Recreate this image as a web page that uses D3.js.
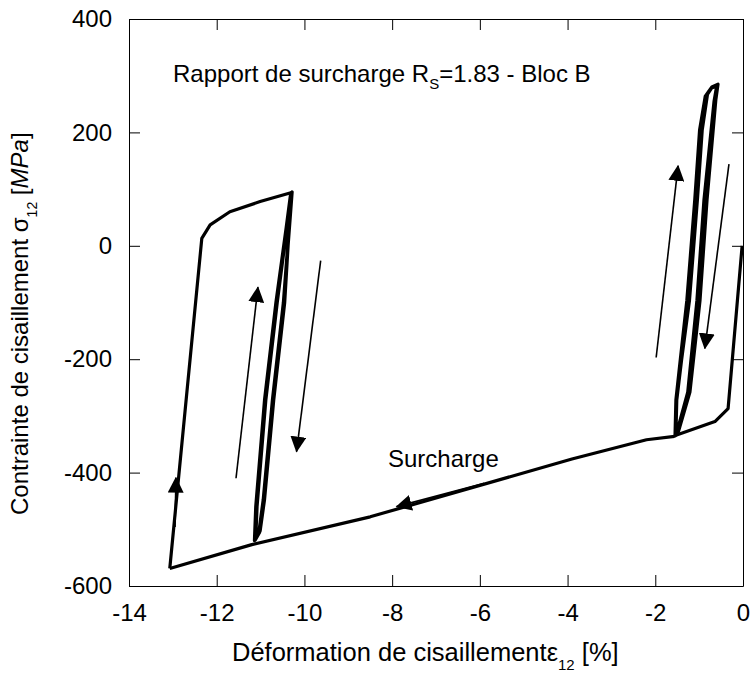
<!DOCTYPE html>
<html lang="fr">
<head>
<meta charset="utf-8">
<title>Rapport de surcharge - Bloc B</title>
<script src="https://d3js.org/d3.v7.min.js"></script>
<style>
  body { margin: 0; background: #fff; }
  svg { display: block; font-family: "Liberation Sans", Arial, sans-serif; }
  .axis text { font-size: 24px; fill: #000; }
  .axis path, .axis line { stroke: #000; stroke-width: 1px; }
</style>
</head>
<body>
<script>
// ticks
const xTicks = [-14, -12, -10, -8, -6, -4, -2, 0];
const yTicks = [-600, -400, -200, 0, 200, 400];

// first loading, from the origin to the start of the right loop  [strain %, stress MPa]
const preload = [[-0.02, 0], [-0.34, -287], [-0.64, -310], [-1.53, -334]];

// cycles of the right loop (up on the left branch, down on the right branch)
const rightCycles = [
  [-1.53, -334], [-1.51, -272], [-1.41, -201], [-1.25, -96], [-1.07, 81], [-0.96, 204], [-0.84, 266], [-0.71, 280], [-0.57, 285],
  [-0.62, 257], [-0.82, 81], [-0.98, -96], [-1.21, -258], [-1.48, -330], [-1.54, -335],
  [-1.51, -272], [-1.40, -201], [-1.22, -96], [-1.04, 81], [-0.93, 204], [-0.81, 267], [-0.69, 281], [-0.58, 284],
  [-0.64, 257], [-0.86, 81], [-1.02, -96], [-1.24, -258], [-1.50, -331], [-1.55, -335],
  [-1.53, -272], [-1.43, -201], [-1.28, -96], [-1.10, 81], [-0.99, 204], [-0.86, 264], [-0.73, 278], [-0.60, 282],
  [-0.66, 255], [-0.89, 81], [-1.05, -96], [-1.26, -258], [-1.52, -332], [-1.56, -336]
];

// the overload ("Surcharge") branch
const surcharge = [[-1.56, -336], [-2.20, -342], [-3.90, -376], [-8.50, -478], [-11.20, -527], [-13.07, -569]];

// reloading up to the left loop
const reload = [[-13.07, -569], [-12.34, 13], [-12.15, 37], [-11.70, 60], [-11.01, 78], [-10.29, 94]];

// cycles of the left loop (down on the right branch, up on the left branch)
const leftCycles = [
  [-10.29, 94], [-10.46, -100], [-10.71, -272], [-10.92, -448], [-11.02, -505], [-11.12, -519],
  [-11.09, -460], [-10.89, -272], [-10.63, -100], [-10.31, 90], [-10.29, 94],
  [-10.48, -100], [-10.73, -272], [-10.94, -448], [-11.04, -505], [-11.13, -518],
  [-11.10, -460], [-10.90, -272], [-10.64, -100], [-10.32, 89], [-10.30, 93],
  [-10.45, -100], [-10.70, -272], [-10.91, -448], [-11.01, -503], [-11.11, -516],
  [-11.08, -460], [-10.88, -272], [-10.62, -100], [-10.30, 91], [-10.28, 95],
  [-10.47, -100], [-10.72, -272], [-10.93, -448], [-11.03, -506], [-11.14, -520],
  [-11.11, -460], [-10.91, -272], [-10.65, -100], [-10.31, 92], [-10.29, 94]
];

// direction arrows: [x1, y1, x2 (tip), y2 (tip)]
const arrows = [
  [-12.95, -496, -12.93, -409],
  [-11.56, -410, -11.06, -73],
  [-9.63, -26, -10.18, -363],
  [-1.98, -197, -1.48, 141],
  [-0.32, 144, -0.87, -181],
  [-5.90, -419, -7.90, -460]
];

const width = 751, height = 688;
const svg = d3.select("body").append("svg")
  .attr("width", width)
  .attr("height", height);

const x = d3.scaleLinear().domain([-14, 0]).range([129, 743]);
const y = d3.scaleLinear().domain([-600, 400]).range([586, 19]);

// inward ticks on all four sides, plain hyphen for negative labels
svg.append("g").attr("class", "axis")
  .attr("transform", "translate(0,586)")
  .call(d3.axisBottom(x).tickValues(xTicks).tickSizeInner(-11).tickSizeOuter(0).tickPadding(18).tickFormat(d => String(d)))
  .selectAll("text").attr("dy", "0.71em");

svg.append("g").attr("class", "axis")
  .attr("transform", "translate(129,0)")
  .call(d3.axisLeft(y).tickValues(yTicks).tickSizeInner(-11).tickSizeOuter(0).tickPadding(17).tickFormat(d => String(d)));

svg.append("g").attr("class", "axis")
  .attr("transform", "translate(0,19)")
  .call(d3.axisTop(x).tickValues(xTicks).tickSizeInner(-11).tickSizeOuter(0).tickFormat(""));

svg.append("g").attr("class", "axis")
  .attr("transform", "translate(743,0)")
  .call(d3.axisRight(y).tickValues(yTicks).tickSizeInner(-11).tickSizeOuter(0).tickFormat(""));

// arrow head
svg.append("defs").append("marker")
  .attr("id", "head")
  .attr("viewBox", "0 0 16 16")
  .attr("markerUnits", "userSpaceOnUse")
  .attr("markerWidth", 16).attr("markerHeight", 16)
  .attr("refX", 15).attr("refY", 8)
  .attr("orient", "auto")
  .append("path")
  .attr("d", "M0,0L16,8L0,16Z")
  .attr("fill", "#000");

const line = d3.line().x(d => x(d[0])).y(d => y(d[1]));

[preload, rightCycles, surcharge, reload, leftCycles].forEach(seg => {
  svg.append("path")
    .attr("d", line(seg))
    .attr("fill", "none")
    .attr("stroke", "#000")
    .attr("stroke-width", 3.2)
    .attr("stroke-linejoin", "round");
});

svg.selectAll("line.arrow")
  .data(arrows)
  .enter().append("line")
  .attr("class", "arrow")
  .attr("x1", d => x(d[0])).attr("y1", d => y(d[1]))
  .attr("x2", d => x(d[2])).attr("y2", d => y(d[3]))
  .attr("stroke", "#000")
  .attr("stroke-width", 1.6)
  .attr("marker-end", "url(#head)");

// texts
const title = svg.append("text")
  .attr("x", 173).attr("y", 82)
  .attr("font-size", 24);
title.append("tspan").text("Rapport de surcharge R");
title.append("tspan").attr("font-size", 15).attr("dy", 7).text("S");
title.append("tspan").attr("dy", -7).text("=1.83 - Bloc B");

svg.append("text")
  .attr("x", 388).attr("y", 467)
  .attr("font-size", 24)
  .text("Surcharge");

const xl = svg.append("text")
  .attr("x", 232).attr("y", 661)
  .attr("font-size", 25.5);
xl.append("tspan").text("Déformation de cisaillement");
xl.append("tspan").text("ε");
xl.append("tspan").attr("font-size", 15).attr("dy", 9).text("12");
xl.append("tspan").attr("dy", -9).text(" [%]");

const yl = svg.append("text")
  .attr("transform", "translate(28,515) rotate(-90)")
  .attr("font-size", 24);
yl.append("tspan").text("Contrainte de cisaillement σ");
yl.append("tspan").attr("font-size", 14).attr("dy", 9).text("12");
yl.append("tspan").attr("dy", -9).text(" [");
yl.append("tspan").attr("font-style", "italic").text("MPa");
yl.append("tspan").text("]");
</script>
</body>
</html>
